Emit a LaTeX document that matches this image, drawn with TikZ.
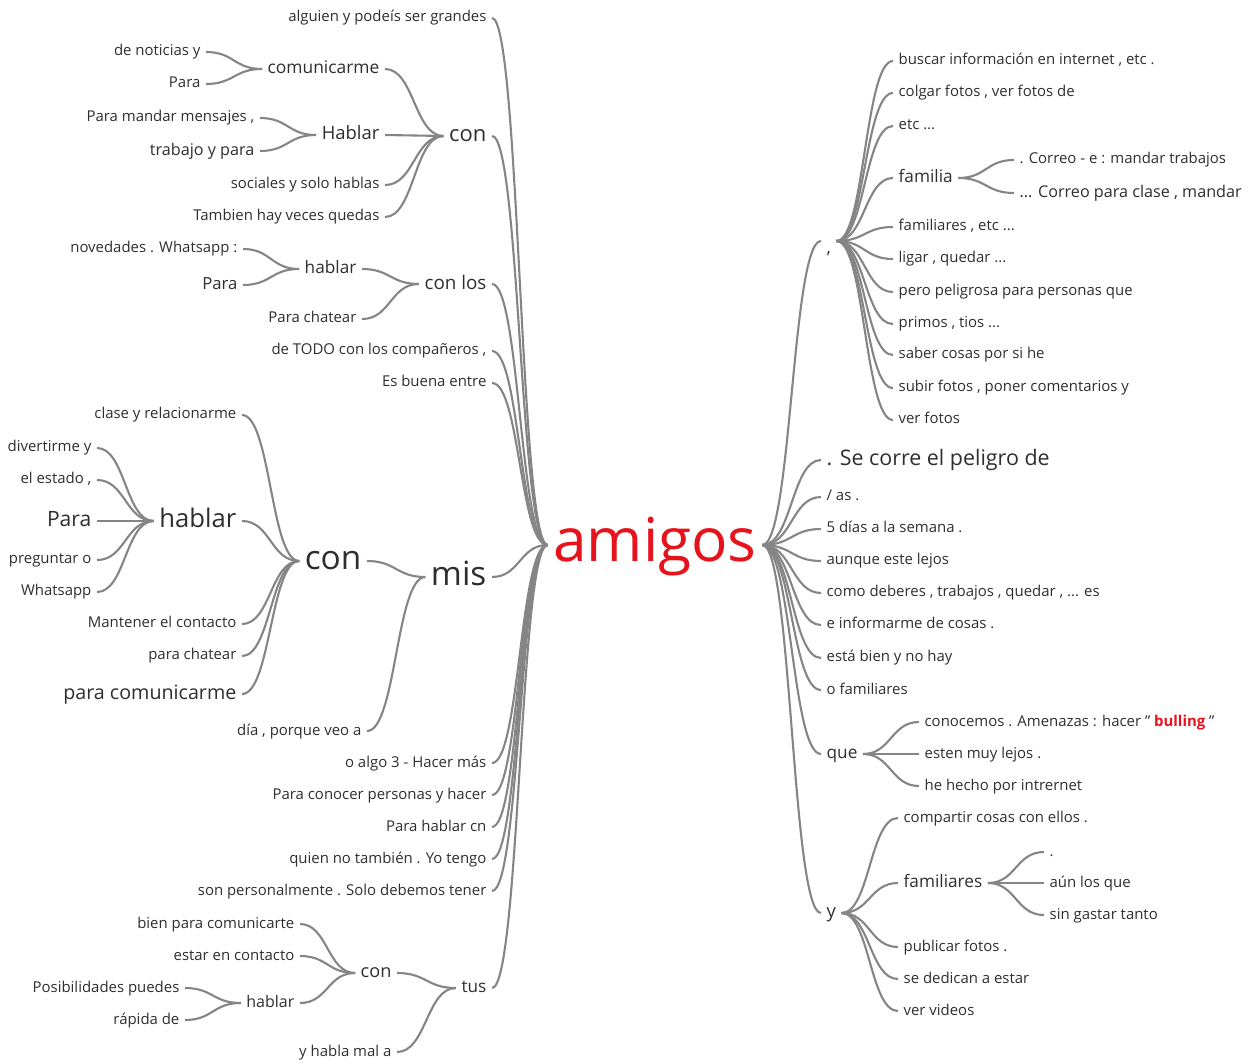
\documentclass[tikz,border=0pt]{standalone}
\usepackage{fontspec}
\setmainfont{Open Sans}
\usepackage{xcolor}
\usetikzlibrary{calc}
\definecolor{amired}{RGB}{230,18,28}
\tikzset{
		>=stealth,
		wrd/.style={inner sep=3pt, text=black!82, font=\fontsize{#1}{#1}\selectfont,
			text height=\fpeval{0.535*#1}pt, text depth=0pt},
		wrd/.default=8.5,
		lw/.style={wrd=#1, anchor=east},
		lw/.default=8.5,
		rw/.style={wrd=#1, anchor=west},
		rw/.default=8.5,
		twig/.style={draw=black!48, line width=1.2pt}
	}
% curve from one anchor to another, flat at both ends
\newcommand\twig[2]{\draw[twig] let \p1=(#1), \p2=(#2) in (\p1) .. controls ({(\x1+\x2)/2},\y1) and ({(\x1+\x2)/2},\y2) .. (\p2);}

\begin{document}
\begin{tikzpicture}[x=0.02cm,y=-0.02cm]
          \useasboundingbox (0,-2) rectangle (1254,1062);

          \node[wrd=34.4, anchor=center, text=amired] (amigos) at (655,543) {amigos};

          % left side
          \node[lw] (alguien) at (492,16) {alguien y podeís ser grandes};
          \node[lw=12.5] (conA) at (492,134) {con};
          \node[lw=10.7] (conlos) at (492,282) {con los};
          \node[lw] (todo) at (492,349) {de TODO con los compañeros ,};
          \node[lw] (buena) at (492,381) {Es buena entre};
          \node[lw=19] (mis) at (492,575) {mis};
          \node[lw] (algo) at (492,761) {o algo 3 - Hacer más};
          \node[lw] (conocer) at (492,793) {Para conocer personas y hacer};
          \node[lw] (hablarcn) at (492,825) {Para hablar cn};
          \node[lw] (quien) at (492,857) {quien no también . Yo tengo};
          \node[lw] (personal) at (492,889) {son personalmente . Solo debemos tener};
          \node[lw=9.8] (tus) at (492,986) {tus};

          \node[lw=9.9] (comunicarA) at (385,67) {comunicarme};
          \node[lw=10.5] (HablarA) at (385,133) {Hablar};
          \node[lw] (sociales) at (385,183) {sociales y solo hablas};
          \node[lw] (tambien) at (385,215) {Tambien hay veces quedas};
          \node[lw] (noticias) at (206,50) {de noticias y};
          \node[lw] (paraA) at (206,82) {Para};
          \node[lw] (mandar) at (260,116) {Para mandar mensajes ,};
          \node[lw=9.2] (trabajo) at (260,149) {trabajo y para};

          \node[lw=9.8] (hablarB) at (362,267) {hablar};
          \node[lw] (chatearA) at (362,317) {Para chatear};
          \node[lw] (novedades) at (243,247) {novedades . Whatsapp :};
          \node[lw=9.5] (paraB) at (243,283) {Para};

          \node[lw=19] (conB) at (367,559) {con};
          \node[lw] (dia) at (367,729) {día , porque veo a};
          \node[lw] (clase) at (242,413) {clase y relacionarme};
          \node[lw=14.6] (hablarC) at (242,519) {hablar};
          \node[lw] (mantener) at (242,622) {Mantener el contacto};
          \node[lw] (chatearB) at (242,654) {para chatear};
          \node[lw=11.2] (comunicarB) at (242,692) {para comunicarme};
          \node[lw] (divertirme) at (97,446) {divertirme y};
          \node[lw] (estado) at (97,478) {el estado ,};
          \node[lw=12] (paraC) at (97,519) {Para};
          \node[lw] (preguntar) at (97,558) {preguntar o};
          \node[lw] (whatsapp) at (97,590) {Whatsapp};

          \node[lw=10.3] (conC) at (397,971) {con};
          \node[lw] (habla) at (397,1050) {y habla mal a};
          \node[lw] (bien) at (300,922) {bien para comunicarte};
          \node[lw] (estar) at (300,954) {estar en contacto};
          \node[lw=9.1] (hablarD) at (300,1001) {hablar};
          \node[lw] (posib) at (185,986) {Posibilidades puedes};
          \node[lw] (rapida) at (185,1018) {rápida de};

          % right side
          \node[rw=10, text height=14pt] (coma) at (821,239) {,};
          \node[rw=12.2] (peligro) at (821,458) {. Se corre el peligro de};
          \node[rw] (as) at (821,495) {/ as .};
          \node[rw] (dias) at (821,527) {5 días a la semana .};
          \node[rw] (aunque) at (821,559) {aunque este lejos};
          \node[rw] (como) at (821,591) {como deberes , trabajos , quedar , ... es};
          \node[rw] (informarme) at (821,623) {e informarme de cosas .};
          \node[rw] (esta) at (821,656) {está bien y no hay};
          \node[rw] (ofamiliares) at (821,688) {o familiares};
          \node[rw=9.8] (que) at (821,752) {que};
          \node[rw=10.5] (y) at (821,911) {y};

          \node[rw] (buscar) at (893,59) {buscar información en internet , etc .};
          \node[rw] (colgar) at (893,91) {colgar fotos , ver fotos de};
          \node[rw] (etc) at (893,124) {etc ...};
          \node[rw=9.8] (familia) at (893,176) {familia};
          \node[rw] (familiaresA) at (893,225) {familiares , etc ...};
          \node[rw] (ligar) at (893,257) {ligar , quedar ...};
          \node[rw] (pero) at (893,290) {pero peligrosa para personas que};
          \node[rw] (primos) at (893,322) {primos , tios ...};
          \node[rw] (saber) at (893,353) {saber cosas por si he};
          \node[rw] (subir) at (893,386) {subir fotos , poner comentarios y};
          \node[rw] (verfotos) at (893,418) {ver fotos};
          \node[rw] (correoA) at (1014,158) {. Correo - e : mandar trabajos};
          \node[rw=9.2] (correoB) at (1014,191) {... Correo para clase , mandar};

          \node[rw] (conocemos) at (919,720) {conocemos . Amenazas : hacer " \textcolor{amired}{\textbf{bulling}} "};
          \node[rw] (esten) at (919,752) {esten muy lejos .};
          \node[rw] (hecho) at (919,784) {he hecho por intrernet};

          \node[rw] (compartir) at (898,816) {compartir cosas con ellos .};
          \node[rw=9.8] (familiaresB) at (898,881) {familiares};
          \node[rw] (publicar) at (898,945) {publicar fotos .};
          \node[rw] (dedican) at (898,977) {se dedican a estar};
          \node[rw] (videos) at (898,1009) {ver videos};
          \node[rw] (punto) at (1044,850) {.};
          \node[rw] (aun) at (1044,881) {aún los que};
          \node[rw] (sin) at (1044,913) {sin gastar tanto};

          % connectors, left
          \twig{alguien.east}{amigos.west}
          \twig{conA.east}{amigos.west}
          \twig{conlos.east}{amigos.west}
          \twig{todo.east}{amigos.west}
          \twig{buena.east}{amigos.west}
          \twig{mis.east}{amigos.west}
          \twig{algo.east}{amigos.west}
          \twig{conocer.east}{amigos.west}
          \twig{hablarcn.east}{amigos.west}
          \twig{quien.east}{amigos.west}
          \twig{personal.east}{amigos.west}
          \twig{tus.east}{amigos.west}

          \twig{comunicarA.east}{conA.west}
          \twig{HablarA.east}{conA.west}
          \twig{sociales.east}{conA.west}
          \twig{tambien.east}{conA.west}
          \twig{noticias.east}{comunicarA.west}
          \twig{paraA.east}{comunicarA.west}
          \twig{mandar.east}{HablarA.west}
          \twig{trabajo.east}{HablarA.west}

          \twig{hablarB.east}{conlos.west}
          \twig{chatearA.east}{conlos.west}
          \twig{novedades.east}{hablarB.west}
          \twig{paraB.east}{hablarB.west}

          \twig{conB.east}{mis.west}
          \twig{dia.east}{mis.west}
          \twig{clase.east}{conB.west}
          \twig{hablarC.east}{conB.west}
          \twig{mantener.east}{conB.west}
          \twig{chatearB.east}{conB.west}
          \twig{comunicarB.east}{conB.west}
          \twig{divertirme.east}{hablarC.west}
          \twig{estado.east}{hablarC.west}
          \twig{paraC.east}{hablarC.west}
          \twig{preguntar.east}{hablarC.west}
          \twig{whatsapp.east}{hablarC.west}

          \twig{conC.east}{tus.west}
          \twig{habla.east}{tus.west}
          \twig{bien.east}{conC.west}
          \twig{estar.east}{conC.west}
          \twig{hablarD.east}{conC.west}
          \twig{posib.east}{hablarD.west}
          \twig{rapida.east}{hablarD.west}

          % connectors, right
          \twig{amigos.east}{coma.west}
          \twig{amigos.east}{peligro.west}
          \twig{amigos.east}{as.west}
          \twig{amigos.east}{dias.west}
          \twig{amigos.east}{aunque.west}
          \twig{amigos.east}{como.west}
          \twig{amigos.east}{informarme.west}
          \twig{amigos.east}{esta.west}
          \twig{amigos.east}{ofamiliares.west}
          \twig{amigos.east}{que.west}
          \twig{amigos.east}{y.west}

          \twig{coma.east}{buscar.west}
          \twig{coma.east}{colgar.west}
          \twig{coma.east}{etc.west}
          \twig{coma.east}{familia.west}
          \twig{coma.east}{familiaresA.west}
          \twig{coma.east}{ligar.west}
          \twig{coma.east}{pero.west}
          \twig{coma.east}{primos.west}
          \twig{coma.east}{saber.west}
          \twig{coma.east}{subir.west}
          \twig{coma.east}{verfotos.west}
          \twig{familia.east}{correoA.west}
          \twig{familia.east}{correoB.west}

          \twig{que.east}{conocemos.west}
          \twig{que.east}{esten.west}
          \twig{que.east}{hecho.west}

          \twig{y.east}{compartir.west}
          \twig{y.east}{familiaresB.west}
          \twig{y.east}{publicar.west}
          \twig{y.east}{dedican.west}
          \twig{y.east}{videos.west}
          \twig{familiaresB.east}{punto.west}
          \twig{familiaresB.east}{aun.west}
          \twig{familiaresB.east}{sin.west}

          \end{tikzpicture}
\end{document}
